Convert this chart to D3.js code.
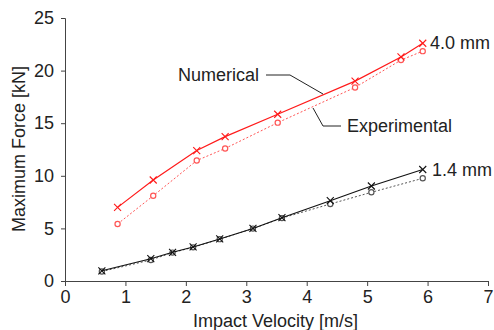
<!DOCTYPE html>
<html><head><meta charset="utf-8">
<script src="https://cdn.jsdelivr.net/npm/d3@7"></script>
<style>body{margin:0;background:#fff}svg{display:block}text{font-family:"Liberation Sans",Arial,sans-serif;fill:#222}</style>
</head><body><svg id="c" width="494" height="330"></svg>
<script>
const xTicks = [0,1,2,3,4,5,6,7];
const yTicks = [0,5,10,15,20,25];
const red_num_x = [0.87,1.46,2.18,2.65,3.52,4.80,5.56,5.92];
const red_num_y = [7.0,9.6,12.4,13.72,15.85,19.0,21.3,22.6];
const red_exp_x = [0.87,1.46,2.18,2.65,3.52,4.80,5.56,5.92];
const red_exp_y = [5.42,8.1,11.45,12.6,15.05,18.4,21.0,21.85];
const blk_num_x = [0.61,1.42,1.78,2.12,2.56,3.11,3.59,4.39,5.07,5.92];
const blk_num_y = [0.97,2.12,2.73,3.24,4.0,5.0,6.02,7.63,9.03,10.6];
const blk_exp_x = [0.61,1.42,1.78,2.12,2.56,3.11,3.59,4.39,5.07,5.92];
const blk_exp_y = [0.9,2.0,2.7,3.2,3.98,4.98,5.98,7.32,8.43,9.76];
const seriesLabels = ["4.0 mm","1.4 mm"];
const annoLabels = ["Numerical","Experimental"];

const svg = d3.select("#c");
const x = d3.scaleLinear().domain([0,7]).range([65,488]);
const y = d3.scaleLinear().domain([0,25]).range([281,18]);
const axCol = "#444";

const xa = svg.append("g").attr("transform","translate(0,281)")
  .call(d3.axisBottom(x).tickValues(xTicks).tickFormat(d3.format("d")).tickSizeOuter(0).tickSize(5).tickPadding(4));
const ya = svg.append("g").attr("transform","translate(65,0)")
  .call(d3.axisLeft(y).tickValues(yTicks).tickFormat(d3.format("d")).tickSizeOuter(0).tickSize(4).tickPadding(7));
[xa,ya].forEach(a=>{
  a.selectAll("path,line").attr("stroke",axCol).attr("stroke-width",1);
  a.selectAll("text").attr("font-size",18).attr("fill","#222").attr("font-family","Liberation Sans, Arial, sans-serif");
});
xa.select(".domain").attr("d","M65,0.5H488");

svg.append("text").attr("x",(65+488)/2-1).attr("y",327).attr("text-anchor","middle").attr("font-size",18).text("Impact Velocity [m/s]");
svg.append("text").attr("transform","translate(25,149) rotate(-90)").attr("text-anchor","middle").attr("font-size",18).text("Maximum Force [kN]");

function series(xs, ys, color, dash, marker, width){
  const pts = xs.map((v,i)=>[x(v), y(ys[i])]);
  svg.append("path").attr("d", d3.line()(pts)).attr("fill","none").attr("stroke",color)
    .attr("stroke-width",width).attr("stroke-dasharray",dash);
  const g = svg.append("g");
  pts.forEach(p=>{
    if(marker==="x"){
      const s=3.5;
      g.append("path").attr("d",`M${p[0]-s},${p[1]-s}L${p[0]+s},${p[1]+s}M${p[0]-s},${p[1]+s}L${p[0]+s},${p[1]-s}`)
        .attr("stroke",color).attr("stroke-width",1.1).attr("fill","none");
    } else {
      g.append("circle").attr("cx",p[0]).attr("cy",p[1]).attr("r",2.6).attr("fill","#fff").attr("stroke",color).attr("stroke-width",1.2);
    }
  });
}
series(blk_exp_x, blk_exp_y, "#555", "2,2", "o", 1);
series(blk_num_x, blk_num_y, "#111", null, "x", 1.1);
series(red_exp_x, red_exp_y, "#ff5555", "2,2", "o", 1);
series(red_num_x, red_num_y, "#ff1a1a", null, "x", 1.2);

svg.append("text").attr("x",430).attr("y",49).attr("font-size",18).text(seriesLabels[0]);
svg.append("text").attr("x",432).attr("y",176).attr("font-size",18).text(seriesLabels[1]);

svg.append("text").attr("x",178).attr("y",81).attr("font-size",18).text(annoLabels[0]);
svg.append("path").attr("d","M266,75H290L323,94").attr("fill","none").attr("stroke","#222").attr("stroke-width",1);
svg.append("text").attr("x",347).attr("y",132).attr("font-size",18).text(annoLabels[1]);
svg.append("path").attr("d","M313,108L323,126H341").attr("fill","none").attr("stroke","#222").attr("stroke-width",1);
</script></body></html>
